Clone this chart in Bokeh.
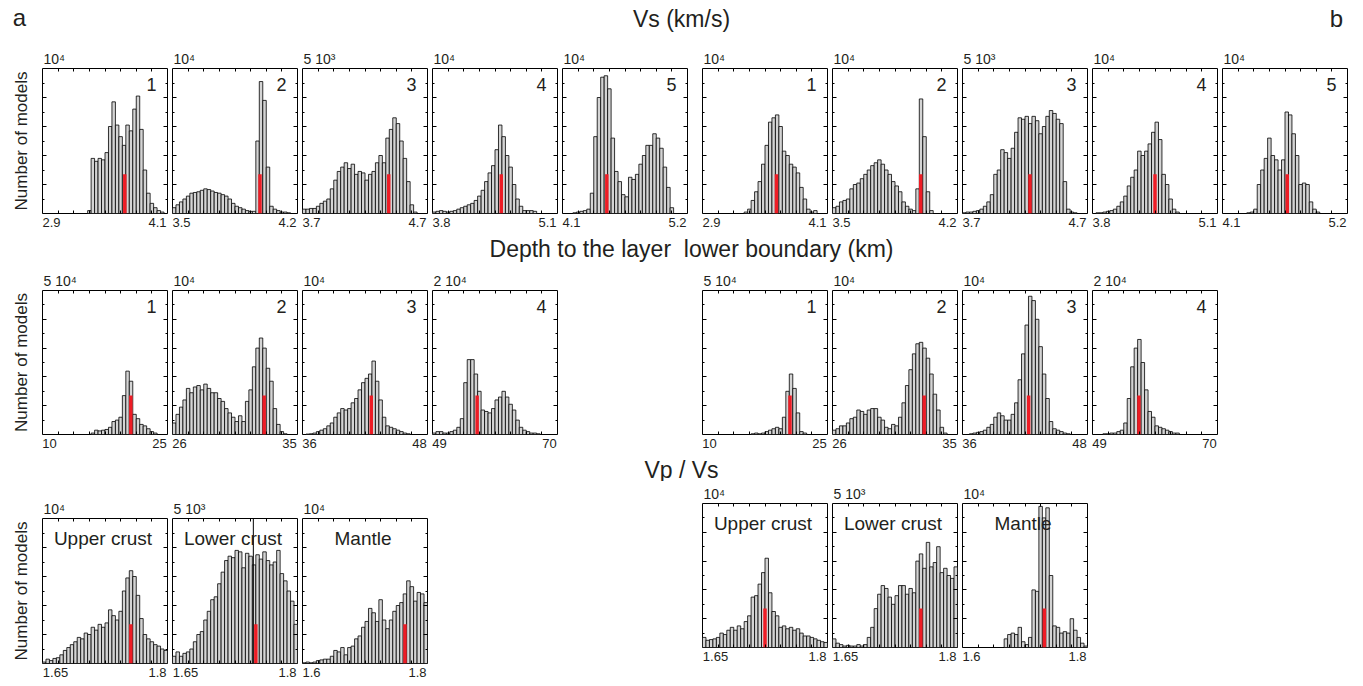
import numpy as np
from bokeh.plotting import figure
from bokeh.layouts import column, row
from bokeh.models import (Range1d, LinearAxis, FixedTicker, Label, Spacer, ColumnDataSource,
                          CustomLabelingPolicy, CustomJSTickFormatter)
from bokeh.embed import file_html
from bokeh.resources import INLINE

FONT = "Liberation Sans"
TXT = "#231f20"

# ---------------- data ----------------
# Vs (km/s): 5 layers
vs_ranges = [(2.9, 4.1), (3.5, 4.2), (3.7, 4.7), (3.8, 5.1), (4.1, 5.2)]
vs_tick_labels = [("2.9", "4.1"), ("3.5", "4.2"), ("3.7", "4.7"), ("3.8", "5.1"), ("4.1", "5.2")]
vs_scale = [10000, 10000, 5000, 10000, 10000]
vs_scale_labels = ["10⁴", "10⁴", "5 10³", "10⁴", "10⁴"]
vs_tags = ["1", "2", "3", "4", "5"]
vs_a_true = [3.69, 3.99, 4.39, 4.515, 4.49]
vs_b_true = [3.61, 3.994, 4.24, 4.45, 4.67]

vs_a1 = [0]*13 + [200, 3800, 3600, 3800, 3700, 4200, 6000, 7700, 6100, 5300, 4700, 6100, 5700,
                  7200, 8100, 5800, 3000, 1400, 700, 400, 200, 100, 0]
vs_a2 = [400, 600, 800, 1000, 1200, 1400, 1450, 1500, 1600, 1700, 1650, 1550, 1450, 1400, 1300, 1200,
         1000, 700, 500, 400, 300, 200, 150, 150, 5000, 9100, 7800, 3200, 500, 300, 200, 100, 100, 50, 0, 0]
vs_a3 = [150, 150, 175, 175, 250, 350, 425, 500, 850, 1150, 1450, 1600, 1750, 1550, 1700, 1350, 1450,
         1400, 1150, 1350, 1450, 1750, 2000, 1750, 2600, 2900, 3300, 3100, 2500, 1900, 1100, 300, 50, 0, 0, 0]
vs_a4 = [100, 150, 200, 150, 100, 150, 200, 300, 400, 500, 600, 700, 900, 1200, 1600, 2200, 2800, 3300,
         4400, 6100, 5300, 4000, 3200, 2000, 1000, 500, 200, 200, 200, 150, 0, 0, 0, 0, 0, 0]
vs_a5 = [0, 0, 0, 50, 100, 150, 200, 300, 1400, 5300, 8000, 9400, 9500, 8600, 5200, 2900, 2200, 1300,
         1150, 2500, 2350, 2700, 3400, 4000, 4700, 4700, 5500, 5200, 4500, 3200, 1800, 400, 0, 0, 0, 0]
vs_b1 = [0]*12 + [100, 300, 900, 1500, 2200, 3400, 4700, 6300, 6600, 6800, 6000, 4300, 4000, 3400, 3200,
                  2800, 1800, 1000, 300, 100, 200, 0, 0, 0]
vs_b2 = [400, 500, 800, 900, 1000, 1700, 2000, 2100, 2400, 2700, 3000, 3300, 3500, 3700, 3400, 3000,
         2700, 2200, 1900, 1500, 800, 500, 300, 200, 1700, 7900, 5300, 1500, 200, 0, 0, 0, 0, 0, 0, 0]
vs_b3 = [25, 50, 50, 75, 100, 150, 250, 400, 650, 1350, 1500, 2200, 2100, 1900, 2250, 2800, 3300, 3250,
         3350, 3100, 3350, 3200, 2750, 3000, 3350, 3550, 3450, 3250, 3100, 1100, 150, 50, 25, 0, 0, 0]
vs_b4 = [0, 50, 50, 100, 150, 200, 300, 500, 800, 1200, 1900, 2500, 3000, 4300, 4000, 4300, 4800, 5600,
         6300, 5100, 2700, 2000, 1000, 300, 100, 0, 0, 0, 0, 0, 0, 0, 0, 0, 0, 0]
vs_b5 = [0, 0, 0, 0, 0, 0, 0, 50, 100, 300, 2000, 3000, 3800, 5200, 4000, 3700, 3000, 3700, 7000, 6800,
         5500, 4000, 2000, 2100, 2000, 800, 300, 100, 0, 0, 0, 0, 0, 0, 0, 0]

# Depth to the layer lower boundary (km): 4 layers
dep_ranges = [(10, 25), (26, 35), (36, 48), (49, 70)]
dep_tick_labels = [("10", "25"), ("26", "35"), ("36", "48"), ("49", "70")]
dep_scale = [50000, 10000, 10000, 20000]
dep_scale_labels = ["5 10⁴", "10⁴", "10⁴", "2 10⁴"]
dep_tags = ["1", "2", "3", "4"]
dep_a_true = [20.6, 32.6, 42.6, 56.5]
dep_b_true = [20.5, 32.6, 42.35, 56.8]

dep_a1 = [0]*14 + [500, 1500, 1250, 1500, 1750, 2500, 4500, 5000, 6000, 13500, 22000, 18500, 7000,
                   5500, 3500, 3000, 2000, 1000, 500] + [0]*3
dep_a2 = [800, 1400, 1900, 2400, 3200, 2900, 3300, 3400, 3100, 3500, 3200, 2900, 2900, 2500, 2300, 1800,
          1500, 1200, 900, 1300, 900, 2300, 3100, 4700, 6000, 6700, 6000, 4600, 3700, 1800, 700, 200, 50, 0, 0, 0]
dep_a3 = [0, 30, 50, 100, 200, 300, 400, 600, 800, 1200, 1500, 1800, 1700, 1800, 2200, 2500, 3100, 3600,
          3900, 4200, 5100, 3700, 2400, 1200, 600, 500, 400, 300, 200, 100, 50, 0, 0, 0, 0, 0]
dep_a4 = [200, 400, 400, 200, 200, 400, 600, 1000, 2200, 7200, 10400, 10400, 8400, 6000, 3400, 3200, 3000,
          3600, 4800, 5200, 6000, 5200, 4200, 3400, 2000, 1000, 600, 400, 200, 200, 100, 0, 0, 0, 0, 0]
dep_b1 = [0]*14 + [250, 500, 250, 500, 1000, 1500, 2000, 2500, 2000, 6000, 15000, 21000, 16000, 7500,
                   1000, 500] + [0]*6
dep_b2 = [300, 400, 600, 600, 800, 1100, 1200, 1700, 1600, 1400, 1700, 1800, 1800, 1200, 1000, 500, 400,
          700, 600, 1200, 2200, 3400, 4500, 5600, 6300, 6400, 6000, 5300, 4200, 2800, 1700, 500, 100, 0, 0, 0]
dep_b3 = [0, 0, 50, 100, 150, 200, 300, 500, 700, 1200, 1500, 1300, 1000, 1000, 1400, 2200, 3800, 5600,
          7600, 9600, 9300, 8000, 6100, 4200, 2500, 900, 400, 300, 200, 100, 50, 0, 0, 0, 0, 0]
dep_b4 = [0, 0, 0, 100, 100, 200, 200, 400, 600, 1600, 5000, 9400, 12000, 13200, 10000, 6200, 3200, 2400,
          1200, 1000, 800, 600, 400, 200, 200, 0, 0, 0, 0, 0, 0, 0, 0, 0, 0, 0]

# Vp / Vs: 3 layers
vpvs_ranges = [(1.65, 1.8), (1.65, 1.8), (1.6, 1.8)]
vpvs_tick_labels = [("1.65", "1.8"), ("1.65", "1.8"), ("1.6", "1.8")]
vpvs_scale = [10000, 5000, 10000]
vpvs_scale_labels = ["10⁴", "5 10³", "10⁴"]
vpvs_names = ["Upper crust", "Lower crust", "Mantle"]
vpvs_a_true = [1.756, 1.75, 1.764]
vpvs_b_true = [1.725, 1.756, 1.731]
vpvs_a_spike = [None, 1.747, None]   # thin outlier line in lower crust (a)
vpvs_a_spike_top = [None, 5200, None]

vpvs_a1 = [100, 300, 200, 350, 400, 600, 900, 1100, 1300, 1500, 1800, 1700, 2100, 2000, 2500, 2300, 2700,
           2500, 2800, 3700, 3300, 3000, 3600, 5000, 5900, 6400, 6000, 4700, 3100, 2000, 1700, 1500, 1300,
           1200, 1000, 900]
vpvs_a2 = [250, 400, 250, 350, 400, 500, 750, 1000, 1100, 1500, 1800, 2200, 2300, 2750, 3150, 3550, 3700,
           3650, 3900, 3850, 3300, 3800, 3700, 3400, 3750, 3600, 3850, 3550, 3400, 3500, 3900, 3100, 2850,
           2500, 2150, 1350]
vpvs_a3 = [50, 100, 50, 100, 200, 250, 300, 300, 500, 900, 800, 1100, 600, 1100, 1200, 1700, 1900, 2500,
           2900, 3800, 3500, 2900, 4400, 3000, 2400, 3000, 3600, 4000, 4200, 4800, 5700, 5300, 4300, 4900,
           4800, 4200]
vpvs_b1 = [700, 500, 550, 600, 700, 1000, 900, 1200, 1400, 1200, 1500, 1300, 1800, 2200, 3500, 3600, 4400,
           5200, 6200, 3800, 2500, 2200, 1400, 1500, 1300, 1400, 1200, 1300, 1000, 800, 800, 700, 600, 500,
           400, 350]
vpvs_b2 = [300, 150, 100, 50, 75, 50, 50, 100, 50, 100, 350, 700, 1350, 1850, 2150, 2050, 1750, 1500, 1800,
           2150, 2150, 1850, 2050, 1900, 3000, 3250, 2750, 3650, 2800, 2950, 3500, 2600, 2750, 2500, 2400, 2800]
vpvs_b3 = [0]*12 + [600, 900, 1000, 900, 1400, 400, 200, 700, 4000, 3900, 9800, 9000, 9700, 5000, 1500,
                    1400, 1000, 1100, 1000, 2000, 1200, 700, 300, 100]

RED_FRAC = 0.27  # height of the red marker relative to full scale

# ---------------- drawing helpers ----------------
FRAME_W, FRAME_H = 125, 145
HIDE = "for (const i of indices) indices.unset(i)"


def text_w(s, size):
    # Arial / Liberation Sans advance widths for digits, dot, space
    return sum((0.278 if c in ". " else 0.556) for c in s) * size


def tick_axis(ticks, minor=None, tick_len=3, minor_len=0):
    return LinearAxis(ticker=FixedTicker(ticks=list(ticks), minor_ticks=list(minor) if minor is not None else []),
                      formatter=CustomJSTickFormatter(code="return ''"),
                      major_tick_in=tick_len, major_tick_out=0, minor_tick_in=minor_len, minor_tick_out=0,
                      axis_line_color=None, major_tick_line_color="black", minor_tick_line_color="black",
                      major_label_text_font_size="1px", major_label_standoff=0, axis_label_standoff=0,
                      major_label_policy=CustomLabelingPolicy(code=HIDE))


def panel(rng, ymax, counts, true_val, scale_label, ticklabs, tag=None, name=None,
          left=2, right=3, top=30, bottom=22, ylabel=None, spike=None, spike_top=None):
    lo, hi = rng
    p = figure(width=left + FRAME_W + right, height=top + FRAME_H + bottom,
               x_range=Range1d(lo, hi), y_range=Range1d(0, ymax),
               x_axis_type=None, y_axis_type=None, output_backend="svg", toolbar_location=None,
               min_border_left=left, min_border_right=right, min_border_top=top, min_border_bottom=bottom)
    p.frame_align = False
    p.outline_line_color = "black"
    p.outline_line_width = 1
    p.background_fill_color = "white"
    p.border_fill_color = "white"

    # scale label above the frame (as title)
    p.title.text = scale_label
    p.title.align = "left"
    p.title.offset = 1
    p.title.standoff = 4
    p.title.text_font = FONT
    p.title.text_font_size = "14px"
    p.title.text_font_style = "normal"
    p.title.text_color = TXT

    n = len(counts)
    edges = np.linspace(lo, hi, n + 1)
    src = ColumnDataSource(dict(left=edges[:-1], right=edges[1:], top=counts))
    p.quad(left="left", right="right", top="top", bottom=0, source=src,
           fill_color="#d4d4d4", line_color="black", line_width=0.8)
    bw = (hi - lo) / n
    if spike is not None:
        p.segment(x0=[spike], y0=[0], x1=[spike], y1=[spike_top], line_color="black", line_width=1)
    p.vbar(x=[true_val], width=bw, top=[RED_FRAC * ymax], bottom=0,
           fill_color="#ee1c25", line_color=None)

    # inward ticks on all four sides
    xt = np.linspace(lo, hi, 9)[1:-1]
    yt = np.linspace(0, ymax, 6)[1:-1]
    ym = np.linspace(0, ymax, 11)[1:-1]
    p.add_layout(tick_axis(xt), "below")
    p.add_layout(tick_axis(xt), "above")
    yl = tick_axis(yt, ym, 4, 2)
    if ylabel:
        yl.axis_label = ylabel
        yl.axis_label_text_font = FONT
        yl.axis_label_text_font_style = "normal"
        yl.axis_label_text_font_size = "17px"
        yl.axis_label_text_color = TXT
        yl.axis_label_standoff = 12
    p.add_layout(yl, "left")
    p.add_layout(tick_axis(yt, ym, 4, 2), "right")

    # end labels of the x axis, flush with the frame edges (pixel helper range)
    p.extra_x_ranges = {"px": Range1d(0, FRAME_W)}
    cl = int(round(text_w(ticklabs[0], 13) / 2))
    cr = int(round(FRAME_W - 1 - text_w(ticklabs[1], 13) / 2))
    lab_ax = LinearAxis(x_range_name="px", ticker=FixedTicker(ticks=[cl, cr]),
                        major_label_overrides={cl: ticklabs[0], cr: ticklabs[1]},
                        major_tick_in=0, major_tick_out=0, major_tick_line_color=None,
                        minor_tick_line_color=None, axis_line_color=None,
                        major_label_standoff=4, major_label_text_font=FONT,
                        major_label_text_font_size="13px", major_label_text_color=TXT)
    p.add_layout(lab_ax, "below")

    common = dict(text_font=FONT, text_color=TXT)
    if tag is not None:
        p.add_layout(Label(x=hi, y=ymax, x_offset=-11, y_offset=-9, text=tag, text_align="right",
                           text_baseline="top", text_font_size="18px", **common))
    if name is not None:
        p.add_layout(Label(x=(lo + hi) / 2, y=ymax, x_offset=-2, y_offset=-9, text=name,
                           text_align="center", text_baseline="top", text_font_size="19px", **common))
    return p


def heading(h, items):
    p = figure(width=1363, height=h, x_range=Range1d(0, 1363), y_range=Range1d(h, 0),
               x_axis_type=None, y_axis_type=None, output_backend="svg", toolbar_location=None,
               min_border_left=0, min_border_right=0, min_border_top=0, min_border_bottom=0)
    p.frame_align = False
    p.outline_line_color = None
    p.background_fill_color = "white"
    p.border_fill_color = "white"
    for txt, x, y, size, align in items:
        p.add_layout(Label(x=x, y=y, text=txt, text_font=FONT, text_font_size=size, text_align=align,
                           text_baseline="middle", text_color=TXT))
    return p


YL = "Number of models"

# Row 1: Vs
vs_a = [vs_a1, vs_a2, vs_a3, vs_a4, vs_a5]
vs_b = [vs_b1, vs_b2, vs_b3, vs_b4, vs_b5]
row1_items = []
for i in range(5):
    row1_items.append(panel(vs_ranges[i], vs_scale[i], vs_a[i], vs_a_true[i], vs_scale_labels[i],
                            vs_tick_labels[i], tag=vs_tags[i], left=42 if i == 0 else 2,
                            ylabel=YL if i == 0 else None))
row1_items.append(Spacer(width=10, height=10))
for i in range(5):
    row1_items.append(panel(vs_ranges[i], vs_scale[i], vs_b[i], vs_b_true[i], vs_scale_labels[i],
                            vs_tick_labels[i], tag=vs_tags[i]))

# Row 2: depth
dep_a = [dep_a1, dep_a2, dep_a3, dep_a4]
dep_b = [dep_b1, dep_b2, dep_b3, dep_b4]
row2_items = []
for i in range(4):
    row2_items.append(panel(dep_ranges[i], dep_scale[i], dep_a[i], dep_a_true[i], dep_scale_labels[i],
                            dep_tick_labels[i], tag=dep_tags[i], left=42 if i == 0 else 2, top=21,
                            ylabel=YL if i == 0 else None))
row2_items.append(Spacer(width=140, height=10))
for i in range(4):
    row2_items.append(panel(dep_ranges[i], dep_scale[i], dep_b[i], dep_b_true[i], dep_scale_labels[i],
                            dep_tick_labels[i], tag=dep_tags[i], top=21))

# Row 3: Vp/Vs
vpvs_a = [vpvs_a1, vpvs_a2, vpvs_a3]
vpvs_b = [vpvs_b1, vpvs_b2, vpvs_b3]
row3_a = []
for i in range(3):
    row3_a.append(panel(vpvs_ranges[i], vpvs_scale[i], vpvs_a[i], vpvs_a_true[i], vpvs_scale_labels[i],
                        vpvs_tick_labels[i], name=vpvs_names[i], left=42 if i == 0 else 2,
                        top=37, bottom=23, ylabel=YL if i == 0 else None,
                        spike=vpvs_a_spike[i], spike_top=vpvs_a_spike_top[i]))
row3_b = []
for i in range(3):
    row3_b.append(panel(vpvs_ranges[i], vpvs_scale[i], vpvs_b[i], vpvs_b_true[i], vpvs_scale_labels[i],
                        vpvs_tick_labels[i], name=vpvs_names[i], top=21, bottom=39))

h1 = heading(38, [("a", 19, 17, "24px", "center"), ("Vs (km/s)", 681, 18, "23px", "center"),
                  ("b", 1336, 18, "24px", "center")])
h2 = heading(33, [("Depth to the layer \u00a0lower boundary (km)", 691, 13, "23px", "center")])
h3 = heading(25, [("Vp / Vs", 681, 13, "23px", "center")])

layout = column(h1, row(*row1_items), h2, row(*row2_items), h3,
                row(row(*row3_a), Spacer(width=270, height=10), row(*row3_b)))

open("out.html", "w").write(file_html(layout, INLINE))
